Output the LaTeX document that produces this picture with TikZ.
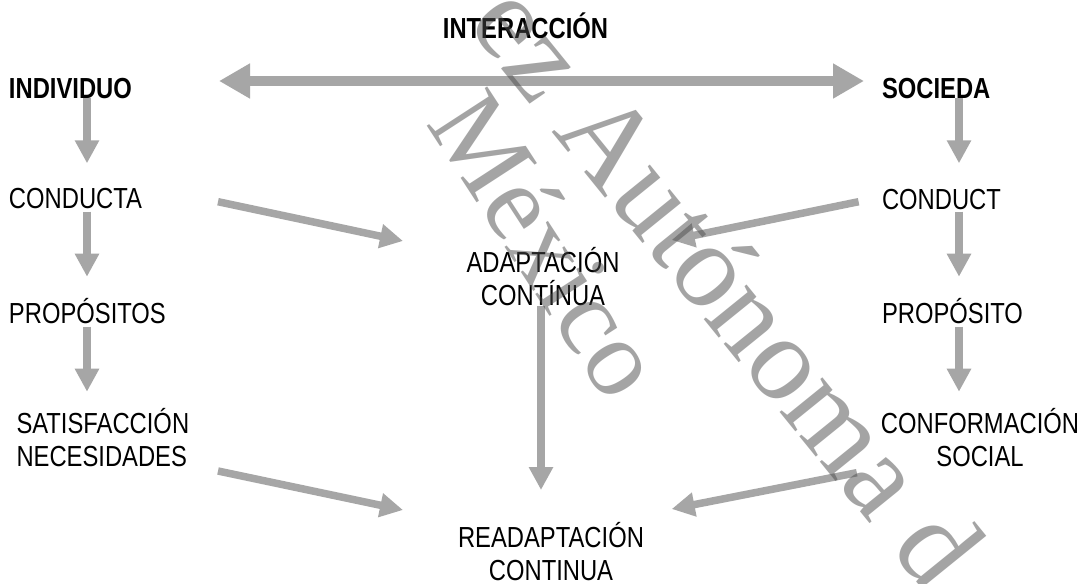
\documentclass[tikz,border=0pt]{standalone}
\usepackage{fontspec}
\setmainfont{Liberation Sans}[FakeStretch=0.82]
\newfontfamily\wmfont{Liberation Serif}
\usetikzlibrary{arrows.meta}
\definecolor{arrgray}{HTML}{A6A6A6}
\definecolor{wmgray}{HTML}{4B4B4B}
\newcommand\twoc[2]{\vtop{\halign{\hfil##\hfil\cr#1\cr#2\cr}}}
\newcommand\twol[2]{\vtop{\halign{##\hfil\cr#1\cr#2\cr}}}
\begin{document}
\begin{tikzpicture}[x=1pt,y=-1pt,
  every node/.style={inner sep=0pt, outer sep=0pt, font=\fontsize{29pt}{33.5pt}\selectfont},
  arr/.style={draw=arrgray, line width=7.5pt, -{Triangle[length=23pt,width=23pt]}},
  bigarr/.style={draw=arrgray, line width=10pt, {Triangle[length=31pt,width=33pt]}-{Triangle[length=31pt,width=33pt]}},
  wm/.style={text=wmgray, text opacity=0.5, anchor=base west}]
\useasboundingbox (0,0) rectangle (1083,583);
\fill[white] (0,0) rectangle (1083,583);

% nodes
\node[anchor=base] (inter) at (525.5,39) {\bfseries INTERACCIÓN};
\node[anchor=base west] (indiv) at (9,98.3) {\bfseries INDIVIDUO};
\node[anchor=base west] (soc) at (882,98.3) {\bfseries SOCIEDA};
\node[anchor=base west] (condL) at (9,208.5) {CONDUCTA};
\node[anchor=base west] (condR) at (882,209) {CONDUCT};
\node[anchor=base west] (propL) at (9,323.3) {PROPÓSITOS};
\node[anchor=base west] (propR) at (882,323.3) {PROPÓSITO};
\node[anchor=base west] (satis) at (16.5,433.3) {\twol{SATISFACCIÓN}{NECESIDADES}};
\node[anchor=base] (conf) at (980,433.3) {\twoc{CONFORMACIÓN}{SOCIAL}};
\node[anchor=base] (adapt) at (543,272) {\twoc{ADAPTACIÓN}{CONTÍNUA}};
\node[anchor=base] (readapt) at (551,547) {\twoc{READAPTACIÓN}{CONTINUA}};

% connector end points
\coordinate (hl) at (219,81);
\coordinate (hr) at (864,81);
\coordinate (indivOut) at (87,98.3);   \coordinate (condLIn) at (87,163.3);
\coordinate (condLOut) at (87,211.7);  \coordinate (propLIn) at (87,276.7);
\coordinate (propLOut) at (87,326.7);  \coordinate (satisIn) at (87,391.7);
\coordinate (socOut) at (959,98.3);    \coordinate (condRIn) at (959,163.3);
\coordinate (condROut) at (959,211.7); \coordinate (propRIn) at (959,276.7);
\coordinate (propROut) at (959,326.7); \coordinate (confIn) at (959,391.7);
\coordinate (condLDiag) at (218,201.7); \coordinate (adaptInL) at (403,241);
\coordinate (condRDiag) at (858.6,201.7); \coordinate (adaptInR) at (671.6,240);
\coordinate (satisDiag) at (218,471); \coordinate (readInL) at (403,510);
\coordinate (confDiag) at (856.8,472.7); \coordinate (readInR) at (671.7,509);
\coordinate (adaptOut) at (541,306); \coordinate (readInT) at (541,490);

% connectors
\draw[bigarr] (hl) -- (hr);
\draw[arr] (indivOut) -- (condLIn);
\draw[arr] (condLOut) -- (propLIn);
\draw[arr] (propLOut) -- (satisIn);
\draw[arr] (socOut) -- (condRIn);
\draw[arr] (condROut) -- (propRIn);
\draw[arr] (propROut) -- (confIn);
\draw[arr] (condLDiag) -- (adaptInL);
\draw[arr] (condRDiag) -- (adaptInR);
\draw[arr] (satisDiag) -- (readInL);
\draw[arr] (confDiag) -- (readInR);
\draw[arr] (adaptOut) -- (readInT);

% watermark
\begin{scope}
\clip (0,0) rectangle (1083,583);
\node[wm, rotate=-51, font=\wmfont\fontsize{120pt}{120pt}\selectfont] (wm1) at (466,25) {ez Autónoma d};
\node[wm, rotate=-57, font=\wmfont\fontsize{110pt}{110pt}\selectfont] (wm2) at (425,123.5) {México};
\end{scope}
\end{tikzpicture}
\end{document}
